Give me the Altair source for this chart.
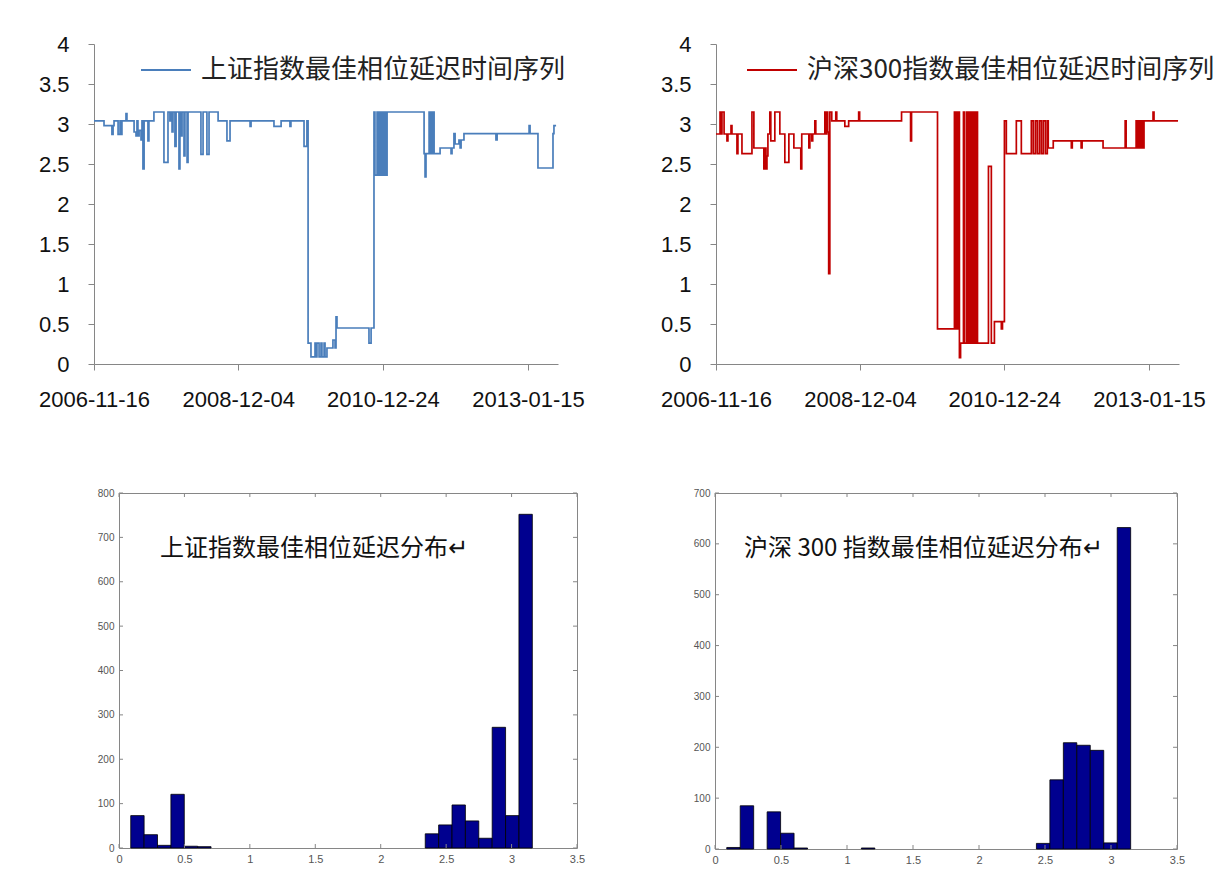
import altair as alt
import pandas as pd

# ---------------- data: 上证指数 phase-delay series (blue) ----------------
SZ_DATES = [
    "2006-11-16", "2007-01-07", "2007-02-17", "2007-02-23", "2007-02-28", "2007-03-21", "2007-03-31", "2007-04-05", "2007-04-10", "2007-05-01",
    "2007-05-06", "2007-06-12", "2007-06-22", "2007-06-27", "2007-07-02", "2007-07-08", "2007-07-18", "2007-07-23", "2007-07-28", "2007-08-03",
    "2007-08-23", "2007-08-28", "2007-09-23", "2007-11-14", "2007-12-05", "2007-12-15", "2007-12-21", "2007-12-26", "2007-12-31", "2008-01-10",
    "2008-01-16", "2008-01-31", "2008-02-05", "2008-02-11", "2008-02-16", "2008-02-26", "2008-03-02", "2008-03-13", "2008-03-18", "2008-05-24",
    "2008-06-04", "2008-06-24", "2008-07-05", "2008-08-21", "2008-10-06", "2008-10-22", "2009-02-03", "2009-02-08", "2009-06-07", "2009-07-14",
    "2009-08-29", "2009-09-03", "2009-11-10", "2009-11-25", "2009-12-01", "2009-12-16", "2010-01-06", "2010-01-11", "2010-01-16", "2010-01-27",
    "2010-02-06", "2010-02-11", "2010-02-22", "2010-02-27", "2010-03-09", "2010-03-30", "2010-04-09", "2010-04-20", "2010-04-25", "2010-04-30",
    "2010-10-13", "2010-10-24", "2010-11-08", "2010-11-13", "2010-11-24", "2010-11-29", "2010-12-04", "2010-12-09", "2010-12-15", "2010-12-20",
    "2010-12-25", "2010-12-30", "2011-01-04", "2011-01-09", "2011-01-15", "2011-07-26", "2011-07-31", "2011-08-05", "2011-08-21", "2011-08-26",
    "2011-08-31", "2011-09-05", "2011-09-10", "2011-09-16", "2011-10-17", "2011-12-13", "2011-12-18", "2011-12-28", "2012-01-03", "2012-01-23",
    "2012-01-29", "2012-02-03", "2012-02-18", "2012-08-02", "2012-08-08", "2013-01-21", "2013-01-26", "2013-03-08", "2013-05-25", "2013-05-30",
    "2013-06-10",
]
SZ_VALUES = [
    3.04, 2.98, 2.87, 2.98, 3.04, 2.87, 3.04, 2.87, 3.04, 3.13,
    3.04, 2.90, 2.85, 3.04, 2.85, 2.92, 2.80, 3.04, 2.44, 3.04,
    2.79, 3.04, 3.15, 2.52, 3.15, 3.04, 3.15, 2.90, 3.15, 2.72,
    3.15, 2.44, 3.15, 2.85, 3.15, 2.60, 3.15, 2.52, 3.15, 2.62,
    3.15, 2.62, 3.15, 3.04, 2.79, 3.04, 2.97, 3.04, 2.97, 3.04,
    2.97, 3.04, 2.72, 3.04, 0.26, 0.09, 0.26, 0.09, 0.26, 0.09,
    0.26, 0.09, 0.26, 0.09, 0.20, 0.20, 0.30, 0.20, 0.59, 0.45,
    0.26, 0.45, 3.15, 2.36, 3.15, 2.36, 3.15, 2.36, 3.15, 2.36,
    3.15, 2.36, 3.15, 2.36, 3.15, 2.63, 2.34, 2.63, 3.15, 2.63,
    3.15, 2.63, 3.15, 2.63, 2.70, 2.63, 2.70, 2.88, 2.75, 2.80,
    2.70, 2.80, 2.88, 2.80, 2.88, 2.98, 2.88, 2.45, 2.88, 2.98,
    2.98,
]

# ---------------- data: 沪深300 phase-delay series (red) ----------------
HS_DATES = [
    "2006-11-16", "2006-12-07", "2006-12-12", "2006-12-17", "2006-12-28", "2007-01-12", "2007-01-17", "2007-02-02", "2007-02-07", "2007-03-05",
    "2007-03-10", "2007-03-31", "2007-05-22", "2007-06-01", "2007-07-23", "2007-07-28", "2007-08-03", "2007-08-08", "2007-08-13", "2007-08-23",
    "2007-08-28", "2007-09-18", "2007-10-14", "2007-11-09", "2007-11-30", "2007-12-26", "2008-01-31", "2008-02-05", "2008-03-13", "2008-03-18",
    "2008-03-28", "2008-04-02", "2008-04-13", "2008-04-18", "2008-06-04", "2008-06-09", "2008-06-14", "2008-06-19", "2008-06-24", "2008-06-30",
    "2008-07-10", "2008-07-31", "2008-08-05", "2008-09-16", "2008-10-06", "2008-11-27", "2008-12-02", "2009-07-08", "2009-08-24", "2009-08-29",
    "2010-01-11", "2010-04-09", "2010-04-15", "2010-04-20", "2010-04-25", "2010-04-30", "2010-05-05", "2010-05-11", "2010-05-26", "2010-05-31",
    "2010-06-11", "2010-06-16", "2010-06-21", "2010-06-26", "2010-07-01", "2010-07-07", "2010-07-12", "2010-07-17", "2010-07-22", "2010-07-27",
    "2010-08-02", "2010-08-07", "2010-10-03", "2010-10-18", "2010-11-03", "2010-12-09", "2010-12-15", "2010-12-25", "2011-01-04", "2011-02-25",
    "2011-03-23", "2011-05-14", "2011-05-24", "2011-06-04", "2011-06-14", "2011-06-25", "2011-07-05", "2011-07-15", "2011-07-26", "2011-08-05",
    "2011-08-10", "2011-09-05", "2011-12-08", "2011-12-13", "2012-01-28", "2012-02-02", "2012-05-21", "2012-09-13", "2012-09-18", "2012-11-09",
    "2012-11-14", "2012-11-19", "2012-11-24", "2012-11-30", "2012-12-05", "2012-12-10", "2012-12-15", "2012-12-20", "2013-02-05", "2013-02-10",
    "2013-06-15",
]
HS_VALUES = [
    2.875, 3.15, 2.875, 3.15, 2.875, 2.79, 2.875, 2.98, 2.875, 2.63,
    2.875, 2.63, 3.15, 2.70, 2.44, 2.70, 2.44, 2.60, 2.875, 3.15,
    2.79, 3.15, 2.875, 2.52, 2.875, 2.70, 2.44, 2.875, 2.70, 2.875,
    2.79, 2.875, 3.04, 2.875, 3.15, 2.875, 3.15, 2.90, 1.13, 3.15,
    3.04, 3.15, 3.04, 2.97, 3.04, 3.15, 3.04, 3.15, 2.79, 3.15,
    0.44, 3.15, 0.44, 3.15, 0.44, 3.15, 0.08, 0.26, 3.15, 0.26,
    3.15, 0.26, 3.15, 0.26, 3.15, 0.26, 3.15, 0.26, 3.15, 0.26,
    3.15, 0.26, 2.47, 0.26, 0.53, 0.44, 0.53, 3.04, 2.63, 3.04,
    2.63, 3.04, 2.63, 3.04, 2.63, 3.04, 2.63, 3.04, 2.63, 3.04,
    2.70, 2.79, 2.70, 2.79, 2.70, 2.79, 2.70, 3.04, 2.70, 3.04,
    2.70, 3.04, 2.70, 3.04, 2.70, 3.04, 2.70, 3.04, 3.15, 3.04,
    3.04,
]

SERIES_X_DOMAIN = ["2006-11-16", "2013-06-20"]
DATE_TICKS = ["2006-11-16", "2008-12-04", "2010-12-24", "2013-01-15"]
LINE_Y_TICKS = [0, 0.5, 1, 1.5, 2, 2.5, 3, 3.5, 4]
SZ_LEGEND = "上证指数最佳相位延迟时间序列"
HS_LEGEND = "沪深300指数最佳相位延迟时间序列"

# ---------------- data: histograms (30 bins, matlab hist) ----------------
SZ_HIST_MIN = 0.0897
SZ_HIST_BINWIDTH = 0.1023
SZ_HIST_COUNTS = [73, 30, 6, 121, 4, 3, 0, 0, 0, 0, 0, 0, 0, 0, 0, 0, 0, 0, 0, 0, 0, 0,
                  32, 52, 97, 61, 22, 272, 73, 752]
HS_HIST_MIN = 0.089
HS_HIST_BINWIDTH = 0.102
HS_HIST_COUNTS = [3, 85, 0, 73, 31, 2, 0, 0, 0, 0, 2, 0, 0, 0, 0, 0, 0, 0, 0, 0, 0, 0, 0,
                  11, 136, 209, 204, 194, 12, 632]
HIST_X_TICKS = [0, 0.5, 1, 1.5, 2, 2.5, 3, 3.5]
SZ_HIST_Y_TICKS = [0, 100, 200, 300, 400, 500, 600, 700, 800]
HS_HIST_Y_TICKS = [0, 100, 200, 300, 400, 500, 600, 700]
SZ_HIST_TITLE = "上证指数最佳相位延迟分布↵"
HS_HIST_TITLE = "沪深 300 指数最佳相位延迟分布↵"

# ---------------- styling ----------------
FONT_LAT = "Liberation Sans"
FONT_CJK = "Noto Sans CJK SC, DejaVu Sans"
FONT_SMALL = "Liberation Sans Narrow, Liberation Sans"
AXIS_GRAY = "#868686"
BLUE = "#4a7ebb"
RED = "#c00000"
NAVY = "#00008f"


def dt(s):
    y, m, d = (int(p) for p in s.split("-"))
    return alt.DateTime(year=y, month=m, date=d, utc=True)


def line_panel(dates, values, color, legend_label, leg_x0, width, height):
    df = pd.DataFrame({"date": dates, "value": values})
    x = alt.X(
        "date:T", title=None,
        scale=alt.Scale(type="utc", domain=[dt(d) for d in SERIES_X_DOMAIN]),
        axis=alt.Axis(values=[dt(d) for d in DATE_TICKS],
                      labelExpr="utcFormat(datum.value, '%Y-%m-%d')",
                      labelFont=FONT_LAT, labelFontSize=22, labelColor="#111111", labelPadding=19,
                      labelFlush=False, labelOverlap=False, tickSize=6, tickColor=AXIS_GRAY,
                      domainColor=AXIS_GRAY, grid=False),
    )
    y = alt.Y(
        "value:Q", title=None,
        scale=alt.Scale(domain=[0, 4], nice=False, zero=False),
        axis=alt.Axis(values=LINE_Y_TICKS, format="~g", labelFont=FONT_LAT, labelFontSize=22,
                      labelColor="#111111", labelPadding=19, tickSize=6, tickColor=AXIS_GRAY,
                      domainColor=AXIS_GRAY, grid=False, minExtent=70, maxExtent=70),
    )
    line = alt.Chart(df).mark_line(color=color, strokeWidth=1.7, interpolate="step-after").encode(x=x, y=y)
    leg_df = pd.DataFrame({"label": [legend_label]})
    leg_line = alt.Chart(leg_df).mark_rule(color=color, strokeWidth=2).encode(
        x=alt.value(leg_x0), x2=alt.value(leg_x0 + 50), y=alt.value(26))
    leg_text = alt.Chart(leg_df).mark_text(
        align="left", baseline="middle", font=FONT_CJK, fontSize=26, color="#222222").encode(
        x=alt.value(leg_x0 + 60), y=alt.value(26), text="label:N")
    return alt.layer(line, leg_line, leg_text).properties(
        width=width, height=height, view=alt.ViewBackground(stroke="transparent"))


def hist_panel(hmin, hwidth, counts, ymax, y_ticks, title, title_x, y_extent, width, height):
    starts = [hmin + i * hwidth for i in range(len(counts))]
    df = pd.DataFrame({"start": starts, "end": [s + hwidth for s in starts], "count": counts})
    df = df[df["count"] > 0]
    xs = alt.Scale(domain=[0, 3.5], nice=False, zero=False)
    ys = alt.Scale(domain=[0, ymax], nice=False, zero=False)
    x_axis = alt.Axis(values=HIST_X_TICKS, format="~g", labelFont=FONT_SMALL, labelFontSize=11,
                      labelColor="#555555", labelPadding=5, ticks=False, domain=False,
                      grid=False, labelFlush=False, labelOverlap=False)
    y_axis = alt.Axis(values=y_ticks, format="d", labelFont=FONT_SMALL, labelFontSize=10,
                      labelColor="#555555", labelPadding=5, ticks=False, domain=False,
                      grid=False, minExtent=y_extent, maxExtent=y_extent, labelOverlap=False)
    bars = alt.Chart(df).mark_rect(fill=NAVY, stroke="#000000", strokeWidth=0.8).encode(
        x=alt.X("start:Q", scale=xs, title=None, axis=x_axis),
        x2="end:Q",
        y=alt.Y("count:Q", scale=ys, title=None, axis=y_axis),
        y2=alt.datum(0),
    )
    xt = pd.DataFrame({"t": HIST_X_TICKS})
    yt = pd.DataFrame({"t": y_ticks})
    tick_bottom = alt.Chart(xt).mark_rule(color=AXIS_GRAY).encode(
        x=alt.X("t:Q", scale=xs, axis=x_axis, title=None), y=alt.value(height), y2=alt.value(height - 4))
    tick_top = alt.Chart(xt).mark_rule(color=AXIS_GRAY).encode(
        x=alt.X("t:Q", scale=xs, axis=x_axis, title=None), y=alt.value(0), y2=alt.value(4))
    tick_left = alt.Chart(yt).mark_rule(color=AXIS_GRAY).encode(
        y=alt.Y("t:Q", scale=ys, axis=y_axis, title=None), x=alt.value(0), x2=alt.value(4))
    tick_right = alt.Chart(yt).mark_rule(color=AXIS_GRAY).encode(
        y=alt.Y("t:Q", scale=ys, axis=y_axis, title=None), x=alt.value(width), x2=alt.value(width - 4))
    tdf = pd.DataFrame({"label": [title]})
    txt = alt.Chart(tdf).mark_text(
        align="left", baseline="middle", font=FONT_CJK, fontSize=24, color="#111111").encode(
        x=alt.value(title_x), y=alt.value(56), text="label:N")
    return alt.layer(bars, tick_bottom, tick_top, tick_left, tick_right, txt).properties(
        width=width, height=height, view=alt.ViewBackground(stroke=AXIS_GRAY, strokeWidth=1))


def spacer(width, height):
    sdf = pd.DataFrame({"a": [0]})
    return alt.Chart(sdf).mark_rule(strokeOpacity=0, strokeWidth=0.1).encode(
        x=alt.value(0), x2=alt.value(1), y=alt.value(10)
    ).properties(width=width, height=height, view=alt.ViewBackground(stroke="transparent"))


A = line_panel(SZ_DATES, SZ_VALUES, BLUE, SZ_LEGEND, 47, 464, 320)
B = line_panel(HS_DATES, HS_VALUES, RED, HS_LEGEND, 31, 463, 320)
C = hist_panel(SZ_HIST_MIN, SZ_HIST_BINWIDTH, SZ_HIST_COUNTS, 800, SZ_HIST_Y_TICKS,
               SZ_HIST_TITLE, 41, 20, 458, 355)
D = hist_panel(HS_HIST_MIN, HS_HIST_BINWIDTH, HS_HIST_COUNTS, 700, HS_HIST_Y_TICKS,
               HS_HIST_TITLE, 29, 128, 462, 356)

top = alt.hconcat(A, B, spacing=60)
bottom = alt.hconcat(spacer(1, 355), C, D, spacing=0)
chart = alt.vconcat(top, bottom, spacing=76).properties(
    padding={"left": 23, "top": 32, "right": 3, "bottom": 5},
    background="white",
)

chart.save("out.html", embed_options={"renderer": "svg", "actions": False})
